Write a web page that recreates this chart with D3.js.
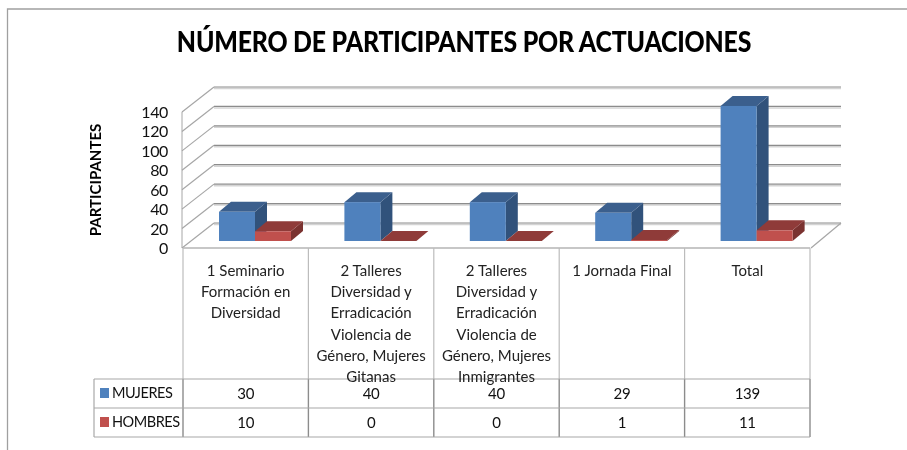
<!DOCTYPE html>
<html>
<head>
<meta charset="utf-8">
<script src="https://cdn.jsdelivr.net/npm/d3@7"></script>
<style>
  html, body { margin: 0; padding: 0; background: #fff; }
  svg { display: block; font-family: Lato, "Open Sans", sans-serif; filter: blur(0.4px); }
</style>
</head>
<body>
<div id="chart"></div>
<script>
const WIDTH = 907;
const HEIGHT = 450;

const title = "NÚMERO DE PARTICIPANTES POR ACTUACIONES";
const yTitle = "PARTICIPANTES";
const categories = [
  ["1 Seminario", "Formación en", "Diversidad"],
  ["2 Talleres", "Diversidad y", "Erradicación", "Violencia de", "Género, Mujeres", "Gitanas"],
  ["2 Talleres", "Diversidad y", "Erradicación", "Violencia de", "Género, Mujeres", "Inmigrantes"],
  ["1 Jornada Final"],
  ["Total"]
];
const seriesNames = ["MUJERES", "HOMBRES"];
const mujeres = [30, 40, 40, 29, 139];
const hombres = [10, 0, 0, 1, 11];
const yTicks = [0, 20, 40, 60, 80, 100, 120, 140];

const colors = {
  MUJERES: {front: "#4f81bd", top: "#3b5f8d", side: "#31527b"},
  HOMBRES: {front: "#c0504d", top: "#8f3b39", side: "#7a3230"}
};

// floor front edge and how far the 3d box goes back
const FRONT = {left: 183, right: 810, bottom: 248, top: 112};
const DEPTH = {x: 31, y: -25};
const BAR_DEPTH = {x: 12, y: -10};
const BAR_BASE = 241;

const svg = d3.select("#chart").append("svg")
  .attr("width", WIDTH)
  .attr("height", HEIGHT);

const x = d3.scaleBand().domain(d3.range(categories.length)).range([FRONT.left, FRONT.right]);
const yAxis = d3.scaleLinear().domain([0, 140]).range([FRONT.bottom, FRONT.top]);
const yBar = d3.scaleLinear().domain([0, 140]).range([BAR_BASE, BAR_BASE - (FRONT.bottom - FRONT.top)]);

// outer border of the picture
svg.append("path")
  .attr("d", "M7.5,450V9H907")
  .attr("fill", "none")
  .attr("stroke", "#a0a0a0")
  .attr("stroke-width", 1.3);

// lato is wider than the original face, so squeeze the title
svg.append("text")
  .attr("transform", "translate(464,52) scale(0.887,1)")
  .attr("text-anchor", "middle")
  .attr("font-size", 28)
  .attr("font-weight", 900)
  .attr("letter-spacing", -0.2)
  .attr("fill", "#000")
  .text(title);

svg.append("text")
  .attr("transform", "translate(101,180) rotate(-90)")
  .attr("text-anchor", "middle")
  .attr("font-size", 15)
  .attr("font-weight", 700)
  .attr("fill", "#000")
  .text(yTitle);

// gridlines: back wall, left wall and a soft shadow under each one
const grid = svg.append("g");
yTicks.forEach(function (t) {
  const yb = yAxis(t) + DEPTH.y;
  grid.append("line")
    .attr("x1", FRONT.left + DEPTH.x).attr("x2", FRONT.right + DEPTH.x)
    .attr("y1", yb + 1.5).attr("y2", yb + 1.5)
    .attr("stroke", "#d4d4d4").attr("stroke-width", 1.5);
  grid.append("line")
    .attr("x1", FRONT.left + DEPTH.x).attr("x2", FRONT.right + DEPTH.x)
    .attr("y1", yb).attr("y2", yb)
    .attr("stroke", "#8c8c8c").attr("stroke-width", 1.2);
  grid.append("line")
    .attr("x1", FRONT.left - 1).attr("x2", FRONT.left + DEPTH.x)
    .attr("y1", yAxis(t)).attr("y2", yb)
    .attr("stroke", "#a6a6a6").attr("stroke-width", 1.2);
  if (t === 0) {
    grid.append("line")
      .attr("x1", FRONT.right + 1).attr("x2", FRONT.right + DEPTH.x)
      .attr("y1", yAxis(t)).attr("y2", yb)
      .attr("stroke", "#a6a6a6").attr("stroke-width", 1.2);
  }
});
grid.append("line")
  .attr("x1", FRONT.left - 1).attr("x2", FRONT.left - 1)
  .attr("y1", yAxis(140)).attr("y2", yAxis(0))
  .attr("stroke", "#a6a6a6");

// y tick labels
svg.append("g").selectAll("text")
  .data(yTicks)
  .enter()
  .append("text")
  .attr("x", 168)
  .attr("y", d => yAxis(d) + 6)
  .attr("text-anchor", "end")
  .attr("font-size", 16)
  .attr("letter-spacing", -0.4)
  .attr("fill", "#111")
  .text(d => d);

// bars
function drawBar(g, xLeft, w, v, c) {
  const top = yBar(v);
  const dx = BAR_DEPTH.x, dy = BAR_DEPTH.y;
  const right = xLeft + w;
  g.append("path")
    .attr("d", `M${right},${BAR_BASE}L${right + dx},${BAR_BASE + dy}L${right + dx},${top + dy}L${right},${top}Z`)
    .attr("fill", c.side);
  g.append("path")
    .attr("d", `M${xLeft},${top}L${xLeft + dx},${top + dy}L${right + dx},${top + dy}L${right},${top}Z`)
    .attr("fill", c.top);
  g.append("rect")
    .attr("x", xLeft)
    .attr("y", top)
    .attr("width", w)
    .attr("height", BAR_BASE - top)
    .attr("fill", c.front);
}

const barInner = d3.scaleBand().domain(seriesNames).range([36, 108]);
const bars = svg.append("g");
categories.forEach(function (c, i) {
  drawBar(bars, x(i) + barInner("MUJERES"), barInner.bandwidth(), mujeres[i], colors.MUJERES);
  drawBar(bars, x(i) + barInner("HOMBRES"), barInner.bandwidth(), hombres[i], colors.HOMBRES);
});

// data table
const rowY = d3.scalePoint().domain(seriesNames).range([393, 422]);
const table = svg.append("g").attr("stroke", "#a8a8a8").attr("stroke-width", 1.2);
table.append("line").attr("x1", FRONT.left).attr("x2", FRONT.right).attr("y1", 248).attr("y2", 248).attr("stroke", "#b4b4b4").attr("stroke-width", 1.6);
d3.range(categories.length + 1).forEach(function (i) {
  const vx = i < categories.length ? x(i) : FRONT.right;
  table.append("line").attr("x1", vx).attr("x2", vx).attr("y1", 248).attr("y2", 379).attr("stroke", "#bcbcbc");
  // the part beside the value rows is heavier
  table.append("line").attr("x1", vx).attr("x2", vx).attr("y1", 379).attr("y2", 437).attr("stroke", "#8c8c8c").attr("stroke-width", 1.4);
});
[379, 408, 437].forEach(function (ry) {
  table.append("line").attr("x1", 94).attr("x2", FRONT.right).attr("y1", ry).attr("y2", ry);
});
table.append("line").attr("x1", 94).attr("x2", 94).attr("y1", 379).attr("y2", 437);

// category labels
const labels = svg.append("g");
categories.forEach(function (lines, i) {
  labels.selectAll(null)
    .data(lines)
    .enter()
    .append("text")
    .attr("x", x(i) + x.bandwidth() / 2)
    .attr("y", (d, j) => 276 + j * 21.2)
    .attr("text-anchor", "middle")
    .attr("font-size", 15)
    .attr("fill", "#222")
    .text(d => d);
});

// values and legend keys
[mujeres, hombres].forEach(function (vals, s) {
  const name = seriesNames[s];
  const cy = rowY(name);
  svg.append("rect")
    .attr("x", 100).attr("y", cy - 5).attr("width", 9).attr("height", 10)
    .attr("fill", colors[name].front);
  svg.append("text")
    .attr("x", 112).attr("y", cy + 5)
    .attr("font-size", 14.5)
    .attr("letter-spacing", -0.45)
    .attr("fill", "#111")
    .text(name);
  svg.append("g").selectAll("text")
    .data(vals)
    .enter()
    .append("text")
    .attr("x", (d, i) => x(i) + x.bandwidth() / 2)
    .attr("y", cy + 5.5)
    .attr("text-anchor", "middle")
    .attr("font-size", 15)
    .attr("letter-spacing", -0.3)
    .attr("fill", "#111")
    .text(d => d);
});
</script>
</body>
</html>
